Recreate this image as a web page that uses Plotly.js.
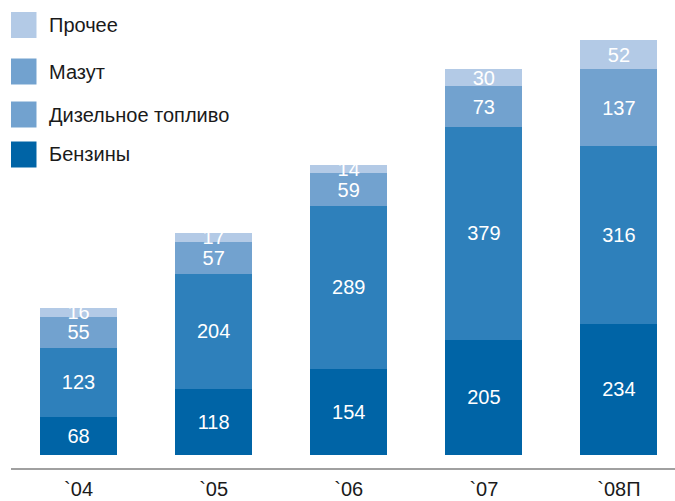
<!DOCTYPE html>
<html><head><meta charset="utf-8">
<script src="https://cdn.plot.ly/plotly-3.0.1.min.js"></script>
<style>html,body{margin:0;padding:0;background:#fff}#chart{width:675px;height:501px}</style>
</head><body><div id="chart"></div>
<script>
const categories = ["`04", "`05", "`06", "`07", "`08П"];
const seriesNames = ["Бензины", "Дизельное топливо", "Мазут", "Прочее"];
const benzin = [68, 118, 154, 205, 234];
const diesel = [123, 204, 289, 379, 316];
const mazut = [55, 57, 59, 73, 137];
const other = [16, 17, 14, 30, 52];
const barColors = ["#0064a6", "#2e80bb", "#72a2cf", "#b3cae6"];
const legendColors = ["#0064a6", "#72a2cf", "#72a2cf", "#b3cae6"];

const FONT = "'Liberation Sans', Arial, sans-serif";
const W = 675, H = 501, ML = 11, MR = 0, MT = 0, MB = 33;
const PW = W - ML - MR, PH = H - MT - MB;
const px = x => (x - ML) / PW;
const py = y => 1 - (y - MT) / PH;

const vals = [benzin, diesel, mazut, other];
const traces = vals.map((v, i) => ({
  type: 'bar', x: categories, y: v, name: seriesNames[i],
  marker: {color: barColors[i], line: {width: 0}},
  text: v.map(String), textposition: 'inside', insidetextanchor: 'middle',
  constraintext: 'none', cliponaxis: false,
  textangle: 0, textfont: {color: '#ffffff', size: 20, family: FONT},
  hoverinfo: 'none', showlegend: false
}));

// custom legend (top to bottom order), swatch colours as in the reference
const legendOrder = [3, 2, 1, 0];
const legendY = [25, 71.5, 114.5, 154.5];
const shapes = [], annotations = [];
legendOrder.forEach((si, k) => {
  const cy = legendY[k];
  shapes.push({type: 'rect', xref: 'paper', yref: 'paper',
    x0: px(11), x1: px(36.5), y0: py(cy - 13), y1: py(cy + 13),
    fillcolor: legendColors[si], line: {width: 0}});
  annotations.push({xref: 'paper', yref: 'paper', x: px(47), y: py(cy),
    xanchor: 'left', yanchor: 'middle', showarrow: false,
    text: seriesNames[si], font: {size: 20, color: '#1a1a1a', family: FONT}});
});

const layout = {
  width: W, height: H,
  margin: {l: ML, r: MR, t: MT, b: MB, pad: 0},
  paper_bgcolor: '#ffffff', plot_bgcolor: '#ffffff',
  barmode: 'stack', bargap: 0.43,
  xaxis: {type: 'category', range: [-0.5, 4.415], showline: true, linecolor: '#a0a0a0',
    linewidth: 2.3, ticks: '', showgrid: false, zeroline: false, ticklabelstandoff: 2,
    tickfont: {size: 20, color: '#1a1a1a', family: FONT}, fixedrange: true},
  yaxis: {range: [-23.1, 810.2], visible: false, showgrid: false, zeroline: false, fixedrange: true},
  shapes: shapes, annotations: annotations,
  showlegend: false, font: {family: FONT}
};
Plotly.newPlot('chart', traces, layout, {staticPlot: true, displayModeBar: false});
</script></body></html>
